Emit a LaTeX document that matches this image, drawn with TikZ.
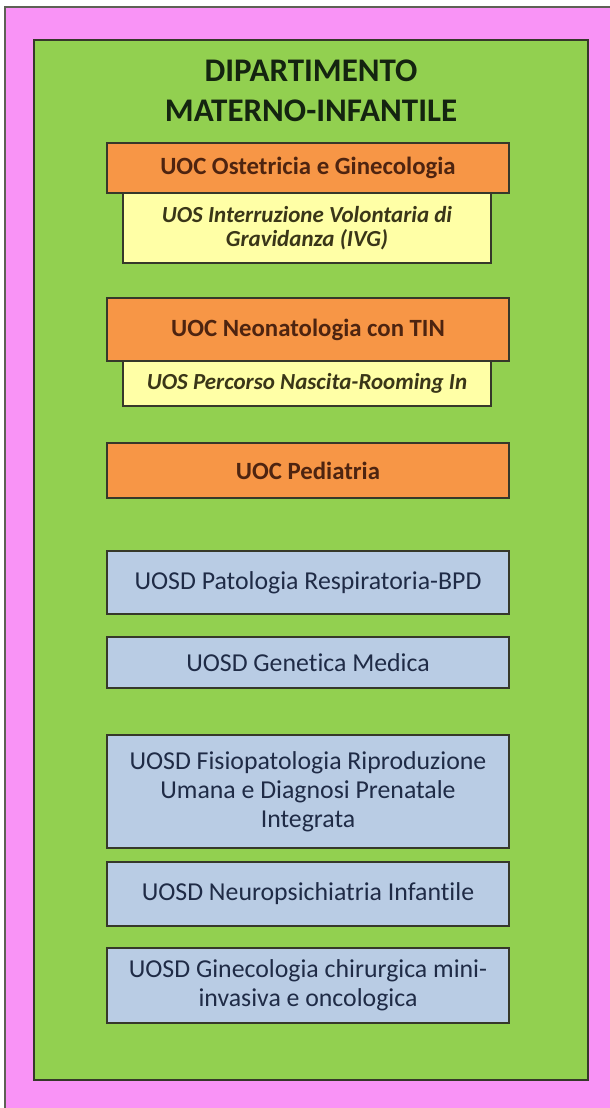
\documentclass[tikz,border=0pt]{standalone}
\usepackage{fontspec}
\setmainfont{Carlito}[Ligatures={NoCommon}]
\definecolor{pagepink}{HTML}{F993F6}
\definecolor{deptgreen}{HTML}{92D050}
\definecolor{uocorange}{HTML}{F79646}
\definecolor{uosyellow}{HTML}{FFFFA6}
\definecolor{uosdblue}{HTML}{B9CCE4}
\definecolor{edgedark}{HTML}{36382A}
\definecolor{titleink}{HTML}{142410}
\definecolor{orangeink}{HTML}{4E2410}
\definecolor{yellowink}{HTML}{3A3618}
\definecolor{blueink}{HTML}{1F2B46}
\tikzset{
  unitbox/.style={draw=edgedark, line width=2.2pt, inner sep=0pt, align=center,
    minimum width=402pt},
  uocbox/.style={unitbox, fill=uocorange, text=orangeink,
    font=\fontsize{24.8}{29}\selectfont\bfseries},
  uosbox/.style={unitbox, fill=uosyellow, text=yellowink, minimum width=368pt,
    font=\fontsize{23}{23.5}\selectfont\bfseries\itshape},
  uosdbox/.style={unitbox, fill=uosdblue, text=blueink,
    font=\fontsize{25.8}{29}\selectfont},
}
\begin{document}
\begin{tikzpicture}[x=1pt,y=-1pt]
  \useasboundingbox (0,0) rectangle (610,1108);
  \clip (0,0) rectangle (610,1108);
  \fill[white] (0,0) rectangle (610,1108);
  % outer page frame
  \draw[draw=edgedark!80, line width=1.4pt, fill=pagepink] (5,7) rectangle (620,1120);
  % department panel
  \node[draw=edgedark, line width=2.4pt, fill=deptgreen, minimum width=554pt,
        minimum height=1040pt, inner sep=0pt] (dept) at (311,560) {};
  \node[text=titleink, align=center, font=\fontsize{33}{40}\selectfont\bfseries]
        (title) at (311,91) {DIPARTIMENTO\\MATERNO-INFANTILE};
  % complex units with their simple units
  \node[uosbox, minimum height=70pt] (ivg) at (307,228)
        {UOS Interruzione Volontaria di\\Gravidanza (IVG)};
  \node[uocbox, minimum height=50pt] (ost) at (308,168) {UOC Ostetricia e Ginecologia};
  \node[uosbox, minimum height=45pt] (room) at (307,383.5) {UOS Percorso Nascita-Rooming In};
  \node[uocbox, minimum height=63pt] (neo) at (308,329.5) {UOC Neonatologia con TIN};
  \node[uocbox, minimum height=55pt] (ped) at (308,470.5) {UOC Pediatria};
  % departmental simple units
  \node[uosdbox, minimum height=63pt] (bpd) at (308,582.5) {UOSD Patologia Respiratoria-BPD};
  \node[uosdbox, minimum height=51pt] (gen) at (308,662.5) {UOSD Genetica Medica};
  \node[uosdbox, minimum height=113pt] (fis) at (308,791.5)
        {UOSD Fisiopatologia Riproduzione\\Umana e Diagnosi Prenatale\\Integrata};
  \node[uosdbox, minimum height=64pt] (neu) at (308,894) {UOSD Neuropsichiatria Infantile};
  \node[uosdbox, minimum height=75pt] (gin) at (308,985.5)
        {UOSD Ginecologia chirurgica mini-\\invasiva e oncologica};
\end{tikzpicture}
\end{document}
